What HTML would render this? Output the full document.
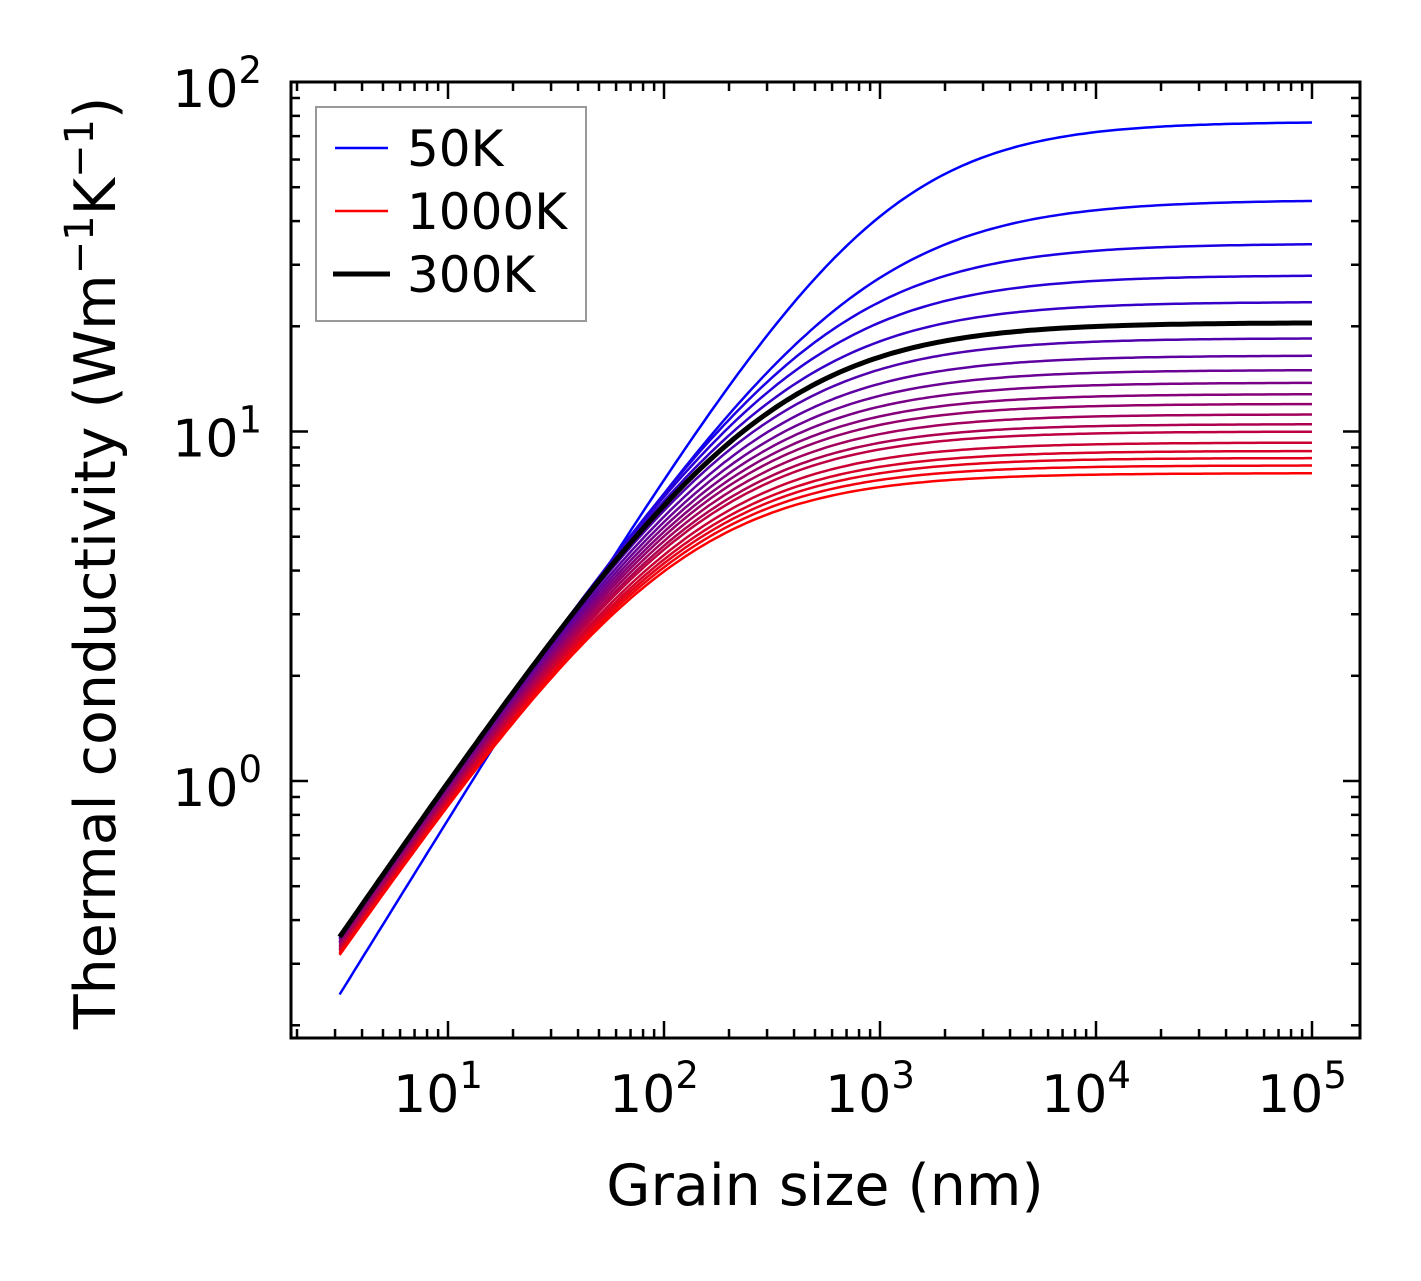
<!DOCTYPE html>
<html><head><meta charset="utf-8"><style>
body{margin:0;background:#fff;}
svg text{font-family:"DejaVu Sans","Liberation Sans",sans-serif;fill:#000;}
</style></head><body>
<svg id="chart" width="1421" height="1276" viewBox="0 0 1421 1276">
<g id="lines"></g>
<g id="axes"></g>
<text x="825" y="1205" font-size="57" text-anchor="middle">Grain size (nm)</text>
<text transform="translate(115,563) rotate(-90)" font-size="57" text-anchor="middle">Thermal conductivity (Wm<tspan font-size="40" dy="-22">−1</tspan><tspan dy="22">K</tspan><tspan font-size="40" dy="-22">−1</tspan><tspan dy="22">)</tspan></text>
<g>
<rect x="316" y="107" width="270" height="214" fill="#fff" stroke="#999" stroke-width="2"/>
<g><line x1="335" y1="148" x2="388" y2="148" stroke="#0000ff" stroke-width="2.5"/><text x="407" y="166" font-size="50">50K</text></g>
<g><line x1="335" y1="211" x2="388" y2="211" stroke="#ff0000" stroke-width="2.5"/><text x="407" y="229" font-size="50">1000K</text></g>
<g><line x1="333" y1="274" x2="390" y2="274" stroke="#000" stroke-width="5"/><text x="407" y="292" font-size="50">300K</text></g>
</g>
</svg>
<script>
const temps=[50,100,150,200,250,300,350,400,450,500,550,600,650,700,750,800,850,900,950,1000];
const plateau=[77,46,34.5,28,23.5,20.5,18.5,16.5,15,13.8,12.8,12,11.2,10.5,10,9.3,8.8,8.4,8.0,7.6];
const kAt3=[0.245,0.33,0.345,0.352,0.356,0.358,0.355,0.352,0.349,0.346,0.343,0.340,0.337,0.334,0.331,0.328,0.325,0.322,0.320,0.318];
const slope=[1.0,0.9,0.9,0.9,0.9,0.9,0.9,0.9,0.9,0.9,0.9,0.9,0.9,0.9,0.9,0.9,0.9,0.9,0.9,0.9];
const xTicks=[1,2,3,4,5];
const yTicks=[0,1,2];
const L0=291,R0=1360,T0=82,B0=1038;
const xDec=216,yDec=349.5;
const Lmin=3.15;
function X(v){return 448+(Math.log10(v)-1)*xDec;}
function Y(v){return 781-Math.log10(v)*yDec;}
const NS="http://www.w3.org/2000/svg";
const lines=document.getElementById('lines');
const axes=document.getElementById('axes');
const p=1.1;
let blackPath=null;
temps.forEach((t,i)=>{
  const s=slope[i];const a=kAt3[i]/Math.pow(Lmin,s)*Math.pow(1+Math.pow(kAt3[i]/plateau[i],p),1/p);
  let d='';
  for(let j=0;j<=200;j++){
    const L=Math.pow(10,Math.log10(Lmin)+j/200*(5-Math.log10(Lmin)));
    const b=a*Math.pow(L,s);
    const k=Math.pow(Math.pow(plateau[i],-p)+Math.pow(b,-p),-1/p);
    d+=(j?'L':'M')+X(L).toFixed(1)+','+Y(k).toFixed(1);
  }
  const f=i/(temps.length-1);
  const el=document.createElementNS(NS,'path');
  el.setAttribute('d',d);el.setAttribute('fill','none');
  if(t===300){el.setAttribute('stroke','#000');el.setAttribute('stroke-width','5');blackPath=el;}
  else{el.setAttribute('stroke','rgb('+Math.round(255*f)+',0,'+Math.round(255*(1-f))+')');el.setAttribute('stroke-width','2.5');}
  
  
  lines.appendChild(el);
});
if(blackPath) lines.appendChild(blackPath);
function ln(x1,y1,x2,y2,w){const l=document.createElementNS(NS,'line');l.setAttribute('x1',x1);l.setAttribute('y1',y1);l.setAttribute('x2',x2);l.setAttribute('y2',y2);l.setAttribute('stroke','#000');l.setAttribute('stroke-width',w);axes.appendChild(l);return l;}
for(let e=0;e<=5;e++){for(let m=1;m<10;m++){const v=m*Math.pow(10,e);const x=X(v);if(x<L0+2||x>R0-2)continue;const len=m===1?17:9;ln(x,B0,x,B0-len,2.5);ln(x,T0,x,T0+len,2.5);}}
for(let e=-1;e<=2;e++){for(let m=1;m<10;m++){const v=m*Math.pow(10,e);const y=Y(v);if(y<T0-1||y>B0-2)continue;const len=m===1?17:9;ln(L0,y,L0+len,y,2.5);ln(R0,y,R0-len,y,2.5);}}
const fr=document.createElementNS(NS,'rect');fr.setAttribute('x',L0);fr.setAttribute('y',T0);fr.setAttribute('width',R0-L0);fr.setAttribute('height',B0-T0);fr.setAttribute('fill','none');fr.setAttribute('stroke','#000');fr.setAttribute('stroke-width','3');


axes.appendChild(fr);
xTicks.forEach(e=>{const t=document.createElementNS(NS,'text');t.setAttribute('x',X(Math.pow(10,e))-10);t.setAttribute('y',1112);t.setAttribute('font-size','52');t.setAttribute('text-anchor','middle');t.innerHTML='10<tspan font-size="37" dy="-24">'+e+'</tspan>';


axes.appendChild(t);});
yTicks.forEach(e=>{const t=document.createElementNS(NS,'text');t.setAttribute('x',262);t.setAttribute('y',Y(Math.pow(10,e))+25);t.setAttribute('font-size','52');t.setAttribute('text-anchor','end');t.innerHTML='10<tspan font-size="37" dy="-24">'+e+'</tspan>';


axes.appendChild(t);});
</script>
</body></html>
